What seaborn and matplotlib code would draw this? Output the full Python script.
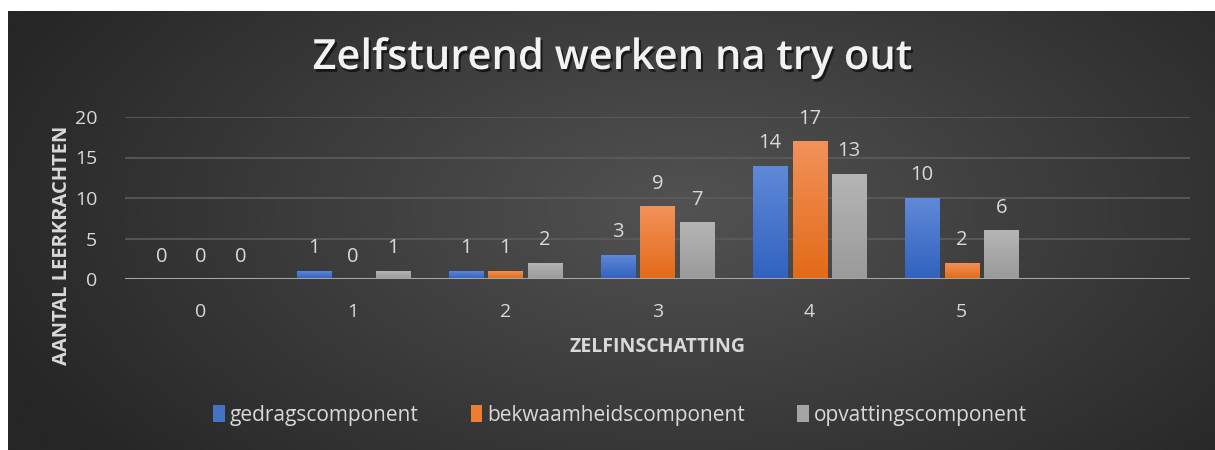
import numpy as np
import pandas as pd
import matplotlib
matplotlib.use("Agg")
import matplotlib.pyplot as plt
import matplotlib.patheffects as pe
import seaborn as sns

# data
categories = ["0", "1", "2", "3", "4", "5", ""]
series = ["gedragscomponent", "bekwaamheidscomponent", "opvattingscomponent"]
gedrag = [0, 1, 1, 3, 14, 10]
bekwaam = [0, 0, 1, 9, 17, 2]
opvatting = [0, 1, 2, 7, 13, 6]

rows = []
for s, vals in zip(series, [gedrag, bekwaam, opvatting]):
    for c, v in zip(categories[:6], vals):
        rows.append({"cat": c, "serie": s, "aantal": v})
df = pd.DataFrame(rows)

sns.set_theme(style="dark")
plt.rcParams["font.family"] = ["Open Sans", "DejaVu Sans"]

kleuren = ["#4472c4", "#ed7d31", "#a5a5a5"]
grad = {
    "#4472c4": ("#6089d8", "#3162bf"),
    "#ed7d31": ("#f2925a", "#e36a18"),
    "#a5a5a5": ("#b5b5b5", "#9a9a9a"),
}
tekst = "#d9d9d9"

fig = plt.figure(figsize=(12.15, 4.5), dpi=100, facecolor="white")

# achtergrond met radiale gradient
bg = fig.add_axes([8 / 1215, 0, 1207 / 1215, 439 / 450])
bg.set_axis_off()
yy, xx = np.mgrid[0:1:300j, 0:1:800j]
d = np.sqrt(((xx - 0.56) / 0.62) ** 2 + ((yy - 0.55) / 0.9) ** 2)
d = np.clip(d, 0, 1)
licht = np.array([0x52, 0x52, 0x52]) / 255
donker = np.array([0x26, 0x26, 0x26]) / 255
img = licht[None, None, :] * (1 - d[..., None]) + donker[None, None, :] * d[..., None]
bg.imshow(img, aspect="auto", extent=[0, 1, 0, 1], origin="lower")
bg.set_xlim(0, 1)
bg.set_ylim(0, 1)

ax = fig.add_axes([125 / 1215, 171 / 450, 1065 / 1215, 162 / 450])
ax.patch.set_alpha(0)

sns.barplot(data=df, x="cat", y="aantal", hue="serie", order=categories,
            hue_order=series, palette=kleuren, width=0.78, gap=0.14,
            ax=ax, legend=True, saturation=1, linewidth=0, edgecolor="none")

ax.set_ylim(0, 20)
ax.set_xlim(-0.5, 6.5)
ax.set_yticks([0, 5, 10, 15, 20])
ax.yaxis.grid(True, color="#5c5c5c", linewidth=1.2)
ax.xaxis.grid(False)
ax.set_axisbelow(True)
for sp in ax.spines.values():
    sp.set_visible(False)
ax.axhline(0, color="#a6a6a6", linewidth=2.2, zorder=4)
ax.tick_params(axis="both", length=0, colors=tekst, labelsize=14)
ax.tick_params(axis="y", pad=20)
ax.tick_params(axis="x", pad=17)

# gradient in de staven
for patch in ax.patches:
    kleur = matplotlib.colors.to_hex(patch.get_facecolor())
    if kleur not in grad or patch.get_height() <= 0:
        continue
    x0, y0 = patch.get_x(), patch.get_y()
    w, h = patch.get_width(), patch.get_height()
    top, bot = grad[kleur]
    g = np.linspace(0, 1, 100)[:, None]
    c_top = np.array(matplotlib.colors.to_rgb(top))
    c_bot = np.array(matplotlib.colors.to_rgb(bot))
    arr = c_bot[None, None, :] * (1 - g[..., None]) + c_top[None, None, :] * g[..., None]
    arr = np.repeat(arr, 2, axis=1)
    im = ax.imshow(arr, extent=[x0, x0 + w, y0, y0 + h], origin="lower",
                   aspect="auto", zorder=3)
    im.set_clip_path(patch)

for cont in ax.containers:
    ax.bar_label(cont, fmt="%d", padding=9, color=tekst, fontsize=14.5)

ax.set_aspect("auto")
ax.set_xlim(-0.5, 6.5)
ax.set_ylim(0, 20)

ax.set_xlabel("ZELFINSCHATTING", color=tekst, fontsize=14,
              fontweight="bold", labelpad=12)
ax.set_ylabel("AANTAL LEERKRACHTEN", color=tekst, fontsize=14.5,
              fontweight="bold")
ax.yaxis.set_label_coords(-53 / 1065, 0.21)

handles, labels = ax.get_legend_handles_labels()
ax.get_legend().remove()
leg = fig.legend(handles, labels, loc="center", bbox_to_anchor=(620 / 1215, 1 - 415 / 450),
                 ncol=3, frameon=False, fontsize=15, handlelength=0.55,
                 handleheight=0.9, handletextpad=0.25, columnspacing=2.5)
for t in leg.get_texts():
    t.set_color(tekst)

fig.text(612 / 1215, 1 - 58 / 450, "Zelfsturend werken na try out",
         ha="center", va="center", color="#f2f2f2", fontsize=30,
         fontweight="semibold",
         path_effects=[pe.withSimplePatchShadow(offset=(1.5, -2), shadow_rgbFace="black", alpha=0.6)])

fig.savefig("out.png", dpi=100, facecolor="white")
